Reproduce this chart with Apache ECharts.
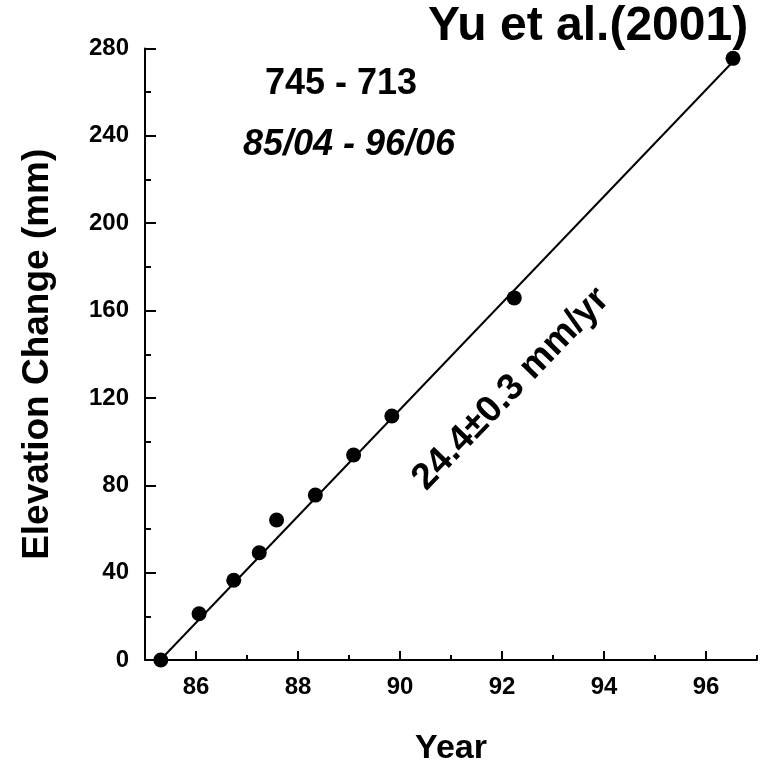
<!DOCTYPE html>
<html lang="en">

<head>
    <meta charset="UTF-8" />
    <title>Elevation Change 745 - 713</title>
    <script src="https://cdn.jsdelivr.net/npm/echarts@6/dist/echarts.min.js"></script>
    <style>
        * {
            margin: 0;
        }

        #chart {
            width: 760px;
            height: 771px;
            background-color: #fff;
        }
    </style>
</head>

<body>
    <div id="chart"></div>
    <script>
        // levelling epochs (decimal year) and elevation change (mm)
        const years = [85.31, 86.06, 86.74, 87.24, 87.58, 88.34, 89.09, 89.84, 92.24, 96.53];
        const elevations = [0, 21.2, 36.5, 49.1, 64.1, 75.5, 93.9, 111.7, 165.8, 275.5];

        // fitted rate line, 24.4 mm/yr
        const fitYears = [85.3, 96.55];
        const fitValues = [0, 274.5];

        const xMajorTicks = [86, 88, 90, 92, 94, 96];
        const xMinorTicks = [87, 89, 91, 93, 95, 97];

        const font = "Liberation Sans, Arial, sans-serif";

        const points = years.map((y, i) => [y, elevations[i]]);
        const fit = fitYears.map((y, i) => [y, fitValues[i]]);

        const myChart = echarts.init(document.getElementById("chart"));
        const option = {
            animation: false,
            grid: { left: 145, right: 3, top: 48.5, bottom: 111 },
            xAxis: [
                {
                    type: "value",
                    min: 85,
                    max: 97,
                    name: "Year",
                    nameLocation: "middle",
                    nameGap: 72,
                    nameTextStyle: { color: "#000", fontFamily: font, fontWeight: "bold", fontSize: 34 },
                    axisLine: { onZero: false, lineStyle: { color: "#000", width: 2 } },
                    axisTick: { inside: true, length: 9, customValues: xMajorTicks, lineStyle: { color: "#000", width: 2 } },
                    axisLabel: {
                        customValues: xMajorTicks,
                        margin: 15,
                        color: "#000",
                        fontFamily: font,
                        fontWeight: "bold",
                        fontSize: 24,
                    },
                    splitLine: { show: false },
                },
                {
                    type: "value",
                    min: 85,
                    max: 97,
                    position: "bottom",
                    axisLine: { show: false },
                    axisTick: { inside: true, length: 5, customValues: xMinorTicks, lineStyle: { color: "#000", width: 2 } },
                    axisLabel: { show: false },
                    splitLine: { show: false },
                },
            ],
            yAxis: {
                type: "value",
                min: 0,
                max: 280,
                interval: 40,
                name: "Elevation Change (mm)",
                nameLocation: "middle",
                nameGap: 89,
                nameTextStyle: { color: "#000", fontFamily: font, fontWeight: "bold", fontSize: 37 },
                axisLine: { show: true, onZero: false, lineStyle: { color: "#000", width: 2 } },
                axisTick: { inside: true, length: 11, lineStyle: { color: "#000", width: 2 } },
                minorTick: { show: true, splitNumber: 2, length: 6, lineStyle: { color: "#000", width: 2 } },
                axisLabel: { margin: 16, color: "#000", fontFamily: font, fontWeight: "bold", fontSize: 24 },
                splitLine: { show: false },
            },
            graphic: [
                {
                    type: "text",
                    left: 428,
                    top: 3,
                    style: { text: "Yu et al.(2001)", fill: "#000", font: "bold 48px " + font },
                },
                {
                    type: "text",
                    x: 341,
                    y: 84,
                    style: { text: "745 - 713", fill: "#000", font: "bold 36px " + font, align: "center", verticalAlign: "middle" },
                },
                {
                    type: "text",
                    x: 349,
                    y: 145,
                    style: { text: "85/04 - 96/06", fill: "#000", font: "italic bold 36px " + font, align: "center", verticalAlign: "middle" },
                },
                {
                    type: "text",
                    x: 511,
                    y: 389,
                    rotation: (46 * Math.PI) / 180,
                    style: { text: "24.4\u00b10.3 mm/yr", fill: "#000", font: "bold 37px " + font, align: "center", verticalAlign: "middle" },
                },
            ],
            series: [
                {
                    type: "line",
                    data: fit,
                    symbol: "none",
                    lineStyle: { color: "#000", width: 2 },
                    z: 2,
                },
                {
                    type: "scatter",
                    data: points,
                    symbolSize: 15,
                    itemStyle: { color: "#000", opacity: 1 },
                    z: 3,
                },
            ],
        };

        myChart.setOption(option);
    </script>
</body>

</html>
